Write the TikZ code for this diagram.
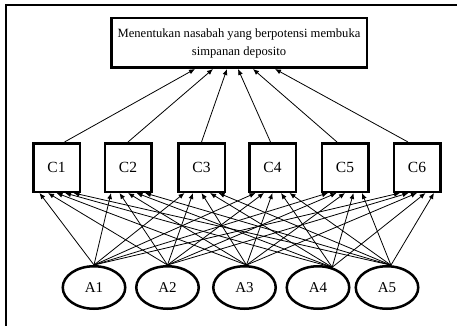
\documentclass[tikz,border=0pt]{standalone}
\usepackage{fontspec}
\setmainfont{Liberation Serif}
\usetikzlibrary{arrows.meta,shapes.geometric}
\begin{document}
\begin{tikzpicture}[x=1pt,y=-1pt,
  cbox/.style={draw,line width=2.5pt,minimum width=46.5pt,minimum height=48.5pt,inner sep=0pt,font=\fontsize{15.5}{15.5}\selectfont},
  aell/.style={draw,ellipse,line width=2.5pt,minimum width=62.5pt,minimum height=42.5pt,inner sep=0pt,font=\fontsize{15}{15}\selectfont},
  conn/.style={-{Latex[length=6pt,width=5pt]},line width=0.8pt},
  frame/.style={line width=2pt}]
\useasboundingbox (0,0) rectangle (457,326);
\coordinate (fb) at (6,326);
\coordinate (fc) at (6,5);
\coordinate (fr) at (457,5);
\draw[frame] (fb) -- (fc) -- (fr);
\node[draw,line width=2.5pt,minimum width=255.5pt,minimum height=49.5pt,align=center,font=\fontsize{12.6}{18}\selectfont] (top) at (239,43) {Menentukan nasabah yang berpotensi membuka\\simpanan deposito};
\node[cbox] (c1) at (56.5,167.5) {C1};
\node[cbox] (c2) at (128,167.5) {C2};
\node[cbox] (c3) at (201.5,167.5) {C3};
\node[cbox] (c4) at (272.5,167.5) {C4};
\node[cbox] (c5) at (345,167.5) {C5};
\node[cbox] (c6) at (417,167.5) {C6};
\node[aell] (a1) at (94,287.5) {A1};
\node[aell] (a2) at (167.5,287.5) {A2};
\node[aell] (a3) at (244.5,287.5) {A3};
\node[aell] (a4) at (318,287.5) {A4};
\node[aell] (a5) at (387,287.5) {A5};
\draw[conn] ([xshift=8pt]c1.north) -- ([xshift=-44pt]top.south);
\draw[conn] (c2.north) -- ([xshift=-26pt]top.south);
\draw[conn] (c3.north) -- ([xshift=-12pt]top.south);
\draw[conn] ([xshift=-2pt]c4.north) -- ([xshift=-1pt]top.south);
\draw[conn] ([xshift=-8pt]c5.north) -- ([xshift=14pt]top.south);
\draw[conn] ([xshift=-9pt]c6.north) -- ([xshift=36pt]top.south);
\foreach \j/\s in {1/north,2/north,3/85,4/55,5/80}
  \foreach \i in {1,...,6}
    \draw[conn] (a\j.\s) -- ([xshift={(\j-3)*8.5}]c\i.south);
\end{tikzpicture}
\end{document}
